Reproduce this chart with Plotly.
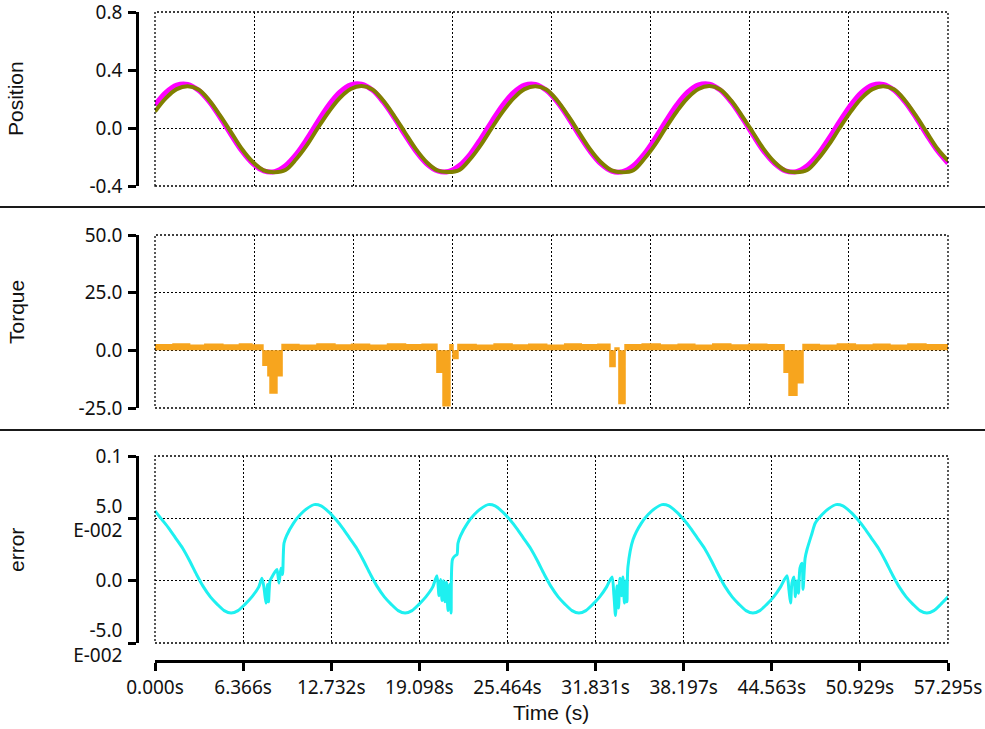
import plotly.graph_objects as go

# ---------------- data ----------------
t_pos = [0.00, 0.79, 1.57, 2.36, 3.14, 3.93, 4.71, 5.50, 6.28, 7.07, 7.85, 8.64, 9.42, 10.21, 11.00, 11.78,
         12.57, 13.35, 14.14, 14.92, 15.71, 16.49, 17.28, 18.06, 18.85, 19.63, 20.42, 21.21, 21.99, 22.78, 23.56, 24.35,
         25.13, 25.92, 26.70, 27.49, 28.27, 29.06, 29.85, 30.63, 31.42, 32.20, 32.99, 33.77, 34.56, 35.34, 36.13, 36.91,
         37.70, 38.48, 39.27, 40.06, 40.84, 41.63, 42.41, 43.20, 43.98, 44.77, 45.55, 46.34, 47.12, 47.91, 48.69, 49.48,
         50.27, 51.05, 51.84, 52.62, 53.41, 54.19, 54.98, 55.76, 56.55, 57.295]

pos_ref = [0.159, 0.246, 0.296, 0.301, 0.260, 0.180, 0.072, -0.047, -0.159, -0.246, -0.296, -0.301, -0.260, -0.180, -0.072, 0.047,
           0.160, 0.247, 0.297, 0.302, 0.261, 0.179, 0.071, -0.048, -0.160, -0.247, -0.296, -0.300, -0.259, -0.179, -0.071, 0.048,
           0.159, 0.246, 0.296, 0.301, 0.260, 0.180, 0.072, -0.047, -0.159, -0.246, -0.297, -0.301, -0.260, -0.180, -0.072, 0.047,
           0.160, 0.247, 0.297, 0.302, 0.261, 0.179, 0.071, -0.048, -0.160, -0.246, -0.296, -0.301, -0.260, -0.180, -0.072, 0.047,
           0.159, 0.246, 0.296, 0.301, 0.260, 0.180, 0.072, -0.047, -0.159, -0.243]

pos_act = [0.113, 0.206, 0.268, 0.288, 0.265, 0.190, 0.085, -0.030, -0.145, -0.235, -0.292, -0.305, -0.290, -0.214, -0.115, 0.002,
           0.114, 0.207, 0.269, 0.289, 0.266, 0.189, 0.084, -0.031, -0.146, -0.236, -0.293, -0.304, -0.289, -0.213, -0.114, 0.003,
           0.113, 0.206, 0.268, 0.288, 0.265, 0.190, 0.085, -0.030, -0.145, -0.235, -0.292, -0.305, -0.291, -0.214, -0.115, 0.002,
           0.114, 0.207, 0.269, 0.289, 0.266, 0.189, 0.084, -0.031, -0.146, -0.236, -0.293, -0.305, -0.290, -0.214, -0.115, 0.002,
           0.113, 0.206, 0.268, 0.288, 0.265, 0.190, 0.085, -0.030, -0.145, -0.225]

t_trq = [0.0, 1.3, 2.5, 3.6, 4.9, 6.1, 7.0, 7.80, 8.16, 8.31, 8.81, 9.18,
         10.4, 11.7, 13.0, 14.2, 15.5, 16.8, 18.1, 19.3, 20.37, 20.81, 21.31, 21.53, 21.89,
         23.2, 24.5, 25.8, 27.0, 28.3, 29.6, 30.8, 32.0, 32.87, 33.24, 33.52, 33.96,
         35.2, 36.5, 37.8, 39.0, 40.3, 41.6, 42.9, 44.2, 45.45, 45.81, 46.38, 46.82,
         48.0, 49.3, 50.6, 51.9, 53.1, 54.4, 55.7, 57.295]
torque = [2.4, 2.7, 2.2, 2.6, 2.3, 2.7, 2.3, -6.5, -11.0, -18.5, -11.0, 2.5,
          2.2, 2.7, 2.3, 2.6, 2.2, 2.7, 2.4, 2.6, -9.5, -24.0, 2.4, -3.5, 2.5,
          2.2, 2.7, 2.3, 2.6, 2.2, 2.7, 2.4, 2.6, -7.0, 1.0, -23.0, 2.4,
          2.7, 2.3, 2.6, 2.2, 2.7, 2.3, 2.6, 2.4, -9.5, -19.5, -14.0, 2.5,
          2.2, 2.7, 2.3, 2.6, 2.2, 2.7, 2.4, 2.4]

t_err = [0.00, 0.50, 1.00, 1.50, 2.00, 2.50, 3.00, 3.50, 4.00, 4.50, 5.00, 5.50, 6.00, 6.50, 7.00, 7.50,
         7.73, 7.88, 8.02, 8.13, 8.20, 8.31, 8.45, 8.67, 8.81, 8.96, 9.10, 9.21, 9.32,
         9.50, 10.00, 10.50, 11.00, 11.50, 12.00,
         12.57, 13.07, 13.57, 14.07, 14.57, 15.07, 15.57, 16.07, 16.57, 17.07, 17.57, 18.07, 18.57, 19.07, 19.57, 20.07,
         20.37, 20.52, 20.63, 20.74, 20.84, 20.95, 21.06, 21.17, 21.28, 21.39, 21.49, 21.68, 21.82, 21.89,
         22.07, 22.57, 23.07, 23.57, 24.07, 24.57,
         25.13, 25.63, 26.13, 26.63, 27.13, 27.63, 28.13, 28.63, 29.13, 29.63, 30.13, 30.63, 31.13, 31.63, 32.13, 32.63,
         33.02, 33.16, 33.27, 33.38, 33.49, 33.59, 33.70, 33.81, 33.92, 34.03, 34.10, 34.17, 34.54,
         35.13, 35.63, 36.13, 36.63, 37.13,
         37.70, 38.20, 38.70, 39.20, 39.70, 40.20, 40.70, 41.20, 41.70, 42.20, 42.70, 43.20, 43.70, 44.20, 44.70, 45.20,
         45.66, 45.81, 45.92, 46.02, 46.17, 46.27, 46.38, 46.49, 46.60, 46.75, 46.82, 46.97, 47.11, 47.47,
         47.70, 48.20, 48.70, 49.20, 49.70,
         50.27, 50.77, 51.27, 51.77, 52.27, 52.77, 53.27, 53.77, 54.27, 54.77, 55.27, 55.77, 56.27, 56.77, 57.295]
err = [0.056, 0.049, 0.042, 0.034, 0.026, 0.016, 0.005, -0.005, -0.013, -0.019, -0.024, -0.026, -0.024, -0.019, -0.013, -0.005,
       0.002, -0.006, -0.018, -0.003, -0.017, 0.000, 0.003, 0.007, 0.009, -0.002, 0.010, 0.005, 0.030,
       0.036, 0.046, 0.053, 0.058, 0.061, 0.060,
       0.055, 0.049, 0.042, 0.034, 0.026, 0.016, 0.005, -0.005, -0.013, -0.019, -0.024, -0.026, -0.024, -0.019, -0.013, -0.005,
       0.004, -0.012, 0.001, -0.016, 0.000, -0.017, -0.001, -0.024, -0.003, -0.026, 0.017, 0.020, 0.021, 0.030,
       0.036, 0.046, 0.053, 0.058, 0.061, 0.060,
       0.055, 0.049, 0.042, 0.034, 0.026, 0.016, 0.005, -0.005, -0.013, -0.019, -0.024, -0.026, -0.024, -0.019, -0.013, -0.005,
       0.003, -0.012, -0.028, -0.004, -0.022, 0.002, -0.012, 0.003, -0.018, 0.000, -0.017, 0.011, 0.033,
       0.046, 0.053, 0.058, 0.061, 0.060,
       0.055, 0.049, 0.042, 0.034, 0.026, 0.016, 0.005, -0.005, -0.013, -0.019, -0.024, -0.026, -0.024, -0.019, -0.013, -0.005,
       0.004, -0.008, -0.018, -0.002, 0.003, -0.013, 0.000, -0.010, 0.010, 0.014, -0.007, 0.018, 0.025, 0.038,
       0.046, 0.053, 0.058, 0.061, 0.060,
       0.055, 0.049, 0.042, 0.034, 0.026, 0.016, 0.005, -0.005, -0.013, -0.019, -0.024, -0.026, -0.024, -0.019, -0.013]

x_grid_top = [0, 7.162, 14.324, 21.486, 28.648, 35.809, 42.971, 50.133, 57.295]
x_ticks = [0, 6.366, 12.732, 19.098, 25.464, 31.831, 38.197, 44.563, 50.929, 57.295]
x_labels = ["0.000s", "6.366s", "12.732s", "19.098s", "25.464s", "31.831s", "38.197s", "44.563s", "50.929s", "57.295s"]

pos_ticks = [-0.4, 0.0, 0.4, 0.8]
pos_labels = ["-0.4", "0.0", "0.4", "0.8"]
trq_ticks = [-25, 0, 25, 50]
trq_labels = ["-25.0", "0.0", "25.0", "50.0"]
err_ticks = [-0.05, 0.0, 0.05, 0.1]
err_labels = ["-5.0<br>E-002", "0.0", "5.0<br>E-002", "0.1"]

# ---------------- figure ----------------
W, H = 985, 729
def px_x(v):
    return v / W
def px_y(v):
    return 1 - v / H

xdom = [px_x(155), px_x(948)]
dom1 = [px_y(186), px_y(12)]
dom2 = [px_y(408), px_y(235)]
dom3 = [px_y(643), px_y(456)]

fig = go.Figure()
fig.add_trace(go.Scatter(x=t_pos, y=pos_ref, mode="lines", xaxis="x", yaxis="y",
                         line=dict(color="#ff00ff", width=5, shape="spline"), showlegend=False))
fig.add_trace(go.Scatter(x=t_pos, y=pos_act, mode="lines", xaxis="x", yaxis="y",
                         line=dict(color="#808000", width=4, shape="spline"), showlegend=False))
fig.add_trace(go.Scatter(x=t_trq, y=torque, mode="lines", xaxis="x2", yaxis="y2",
                         line=dict(color="#f7a51e", width=1.5, shape="hv"),
                         fill="tozeroy", fillcolor="#f7a51e", showlegend=False))
fig.add_trace(go.Scatter(x=t_err, y=err, mode="lines", xaxis="x3", yaxis="y3",
                         line=dict(color="#1ef0f0", width=3, shape="spline", smoothing=0.7),
                         showlegend=False))

grid = dict(showgrid=True, gridcolor="#000000", gridwidth=1.3, griddash="2px,2px", zeroline=False,
            automargin=False, ticklabeloverflow="allow")
hidden_x = dict(domain=xdom, range=[0, 57.295], tickvals=x_grid_top, showticklabels=False,
                ticks="", showline=False, **grid)
yax = dict(anchor="free", position=px_x(137), ticks="outside", ticklen=8, tickwidth=2.5,
           tickcolor="#000000", showline=True, linewidth=2.5, linecolor="#000000",
           ticklabelstandoff=2, **grid)

fig.update_layout(
    width=W, height=H, margin=dict(l=0, r=0, t=0, b=0, pad=0, autoexpand=False),
    paper_bgcolor="white", plot_bgcolor="white",
    font=dict(family="Noto Sans", size=19, color="#111111"),
    xaxis=dict(anchor="y", **hidden_x),
    xaxis2=dict(anchor="y2", **hidden_x),
    xaxis3=dict(domain=xdom, range=[0, 57.295], anchor="free", position=px_y(661),
                tickvals=x_ticks, ticktext=x_labels, ticks="outside", ticklen=8, tickwidth=2.5,
                tickcolor="#000000", showline=True, linewidth=2.5, linecolor="#000000", **grid),
    yaxis=dict(domain=dom1, range=[-0.4, 0.8], tickvals=pos_ticks, ticktext=pos_labels, **yax),
    yaxis2=dict(domain=dom2, range=[-25, 50], tickvals=trq_ticks, ticktext=trq_labels, **yax),
    yaxis3=dict(domain=dom3, range=[-0.05, 0.1], tickvals=err_ticks, ticktext=err_labels, **yax),
)

# dotted plot frames and panel separators
for xr, yr in [("x", "y"), ("x2", "y2"), ("x3", "y3")]:
    fig.add_shape(type="rect", xref=xr + " domain", yref=yr + " domain", x0=0, x1=1, y0=0, y1=1,
                  line=dict(color="#000000", width=1.3, dash="2px,2px"), layer="above")
for yy in [207, 430]:
    fig.add_shape(type="line", xref="paper", yref="paper", x0=0, x1=1, y0=px_y(yy), y1=px_y(yy),
                  line=dict(color="#1a1a1a", width=2))

title_font = dict(family="Liberation Sans", size=21, color="#111111")
for txt, yc in [("Position", 99), ("Torque", 312), ("error", 550)]:
    fig.add_annotation(text=txt, xref="paper", yref="paper", x=px_x(16), y=px_y(yc),
                       textangle=-90, showarrow=False, font=title_font,
                       xanchor="center", yanchor="middle")
fig.add_annotation(text="Time (s)", xref="paper", yref="paper", x=px_x(551), y=px_y(712),
                   showarrow=False, font=title_font, xanchor="center", yanchor="middle")

fig.write_html("out.html")
